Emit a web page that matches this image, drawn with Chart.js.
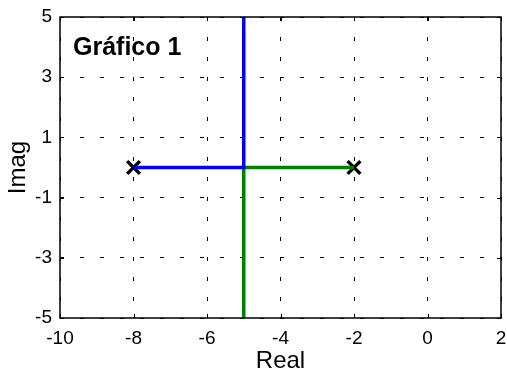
<!DOCTYPE html>
<html>
<head>
<meta charset="utf-8">
<script src="https://cdn.jsdelivr.net/npm/chart.js@4/dist/chart.umd.min.js"></script>
<style>
  body { margin: 0; background: #fff; }
  #wrap { width: 507px; height: 376px; position: relative; }
</style>
</head>
<body>
<div id="wrap"><canvas id="c"></canvas></div>
<script>
// branch data (real, imag)
const blueReal = [-8, -5, -5];
const blueImag = [0, 0, 5];
const greenReal = [-2, -5, -5];
const greenImag = [0, 0, -5];
const poleReal = [-8, -2];
const poleImag = [0, 0];

const xTicks = [-10, -8, -6, -4, -2, 0, 2];
const yTicks = [-5, -3, -1, 1, 3, 5];

const FONT = '"Liberation Sans", Arial, Helvetica, sans-serif';

function toPoints(xs, ys) {
    return xs.map((x, i) => ({ x: x, y: ys[i] }));
}

// box + inward tick marks + label inside the plot
const boxPlugin = {
    id: 'box',
    afterDraw(chart) {
        const ctx = chart.ctx;
        const a = chart.chartArea;
        const xs = chart.scales.x, ys = chart.scales.y;
        ctx.save();
        ctx.strokeStyle = '#000';
        ctx.lineWidth = 1;
        ctx.beginPath();
        xTicks.forEach(v => {
            const p = Math.round(xs.getPixelForValue(v)) + 0.5;
            ctx.moveTo(p, a.bottom); ctx.lineTo(p, a.bottom - 4);
            ctx.moveTo(p, a.top); ctx.lineTo(p, a.top + 4);
        });
        yTicks.forEach(v => {
            const p = Math.round(ys.getPixelForValue(v)) + 0.5;
            ctx.moveTo(a.left, p); ctx.lineTo(a.left + 4, p);
            ctx.moveTo(a.right, p); ctx.lineTo(a.right - 4, p);
        });
        ctx.stroke();
        ctx.lineWidth = 1.5;
        ctx.strokeRect(a.left, a.top, a.right - a.left, a.bottom - a.top);

        ctx.fillStyle = '#000';
        ctx.font = 'bold 25px ' + FONT;
        ctx.textBaseline = 'alphabetic';
        ctx.fillText('Gráfico 1', a.left + 13, a.top + 38);
        ctx.restore();
    }
};

// drop the room Chart.js keeps for the last tick label
function noSidePadding(s) {
    s.height = 58;
    s.paddingLeft = 0;
    s.paddingRight = 0;
}

const ctx = document.getElementById('c').getContext('2d');
new Chart(ctx, {
    type: 'scatter',
    data: {
        datasets: [
            {
                data: toPoints(blueReal, blueImag),
                showLine: true,
                borderColor: '#0000ff',
                borderWidth: 3.5,
                pointRadius: 0,
                fill: false
            },
            {
                data: toPoints(greenReal, greenImag),
                showLine: true,
                borderColor: '#008000',
                borderWidth: 3.5,
                pointRadius: 0,
                fill: false
            },
            {
                data: toPoints(poleReal, poleImag),
                showLine: false,
                pointStyle: 'crossRot',
                pointRadius: 9,
                pointBorderWidth: 3.5,
                borderColor: '#000',
                backgroundColor: '#000'
            }
        ]
    },
    options: {
        responsive: true,
        maintainAspectRatio: false,
        animation: false,
        layout: { autoPadding: false, padding: { top: 17, right: 6, left: 0, bottom: 0 } },
        plugins: {
            legend: { display: false },
            tooltip: { enabled: false }
        },
        scales: {
            x: {
                type: 'linear',
                min: -10,
                max: 2,
                afterBuildTicks: s => { s.ticks = xTicks.map(v => ({ value: v })); },
                afterFit: noSidePadding,
                grid: { color: '#000', lineWidth: 1, drawTicks: false },
                border: { display: false, dash: [4, 16] },
                ticks: {
                    color: '#000',
                    padding: 9,
                    maxRotation: 0,
                    font: { family: FONT, size: 19 }
                },
                title: {
                    display: true,
                    text: 'Real',
                    color: '#000',
                    padding: { top: 3, bottom: 0 },
                    font: { family: FONT, size: 24 }
                }
            },
            y: {
                type: 'linear',
                min: -5,
                max: 5,
                afterBuildTicks: s => { s.ticks = yTicks.map(v => ({ value: v })); },
                afterFit: s => { s.width = 60; s.paddingTop = 0; s.paddingBottom = 0; },
                grid: { color: '#000', lineWidth: 1, drawTicks: false },
                border: { display: false, dash: [4, 16] },
                ticks: {
                    color: '#000',
                    padding: 8,
                    font: { family: FONT, size: 19 }
                },
                title: {
                    display: true,
                    text: 'Imag',
                    color: '#000',
                    padding: { top: 4, bottom: 0 },
                    font: { family: FONT, size: 24 }
                }
            }
        }
    },
    plugins: [boxPlugin]
});
</script>
</body>
</html>
